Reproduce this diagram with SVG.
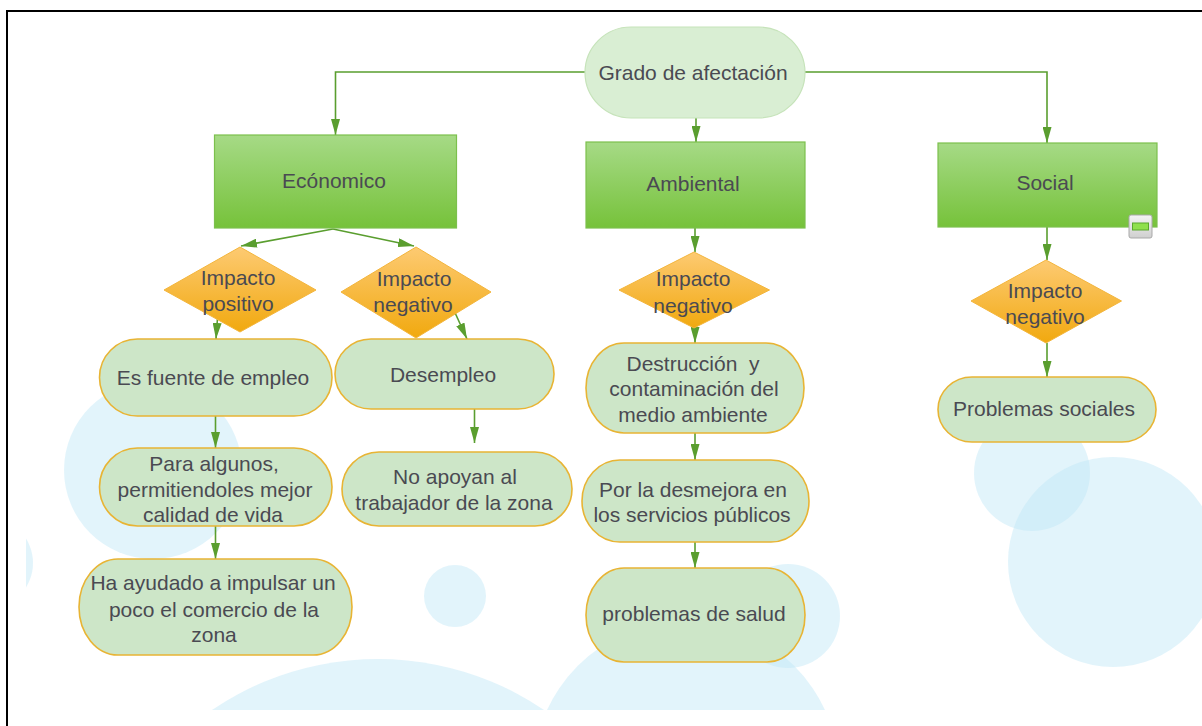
<svg xmlns="http://www.w3.org/2000/svg" width="1202" height="726" viewBox="0 0 1202 726">
<defs>
<linearGradient id="gGreen" x1="0" y1="0" x2="0" y2="1"><stop offset="0" stop-color="#a6da86"/><stop offset="1" stop-color="#76c23a"/></linearGradient>
<linearGradient id="gOrange" x1="0" y1="0" x2="0" y2="1"><stop offset="0" stop-color="#fdca72"/><stop offset="1" stop-color="#f1a90f"/></linearGradient>
<linearGradient id="gIcon" x1="0" y1="0" x2="0" y2="1"><stop offset="0" stop-color="#f4f4f4"/><stop offset="1" stop-color="#cfcfcf"/></linearGradient>
<clipPath id="bgClip"><rect x="26" y="12" width="1176" height="698"/></clipPath>
<marker id="arr" markerUnits="userSpaceOnUse" markerWidth="16" markerHeight="9" refX="16" refY="4.5" orient="auto"><path d="M0,0 L16,4.5 L0,9 z" fill="#5a9e2f"/></marker>
<style>
.bub{fill:#bfe7f7;opacity:0.45}
.rect{fill:url(#gGreen);stroke:#7cc04d;stroke-width:1.2}
.dia{fill:url(#gOrange);stroke:#f3b53c;stroke-width:1}
.box{fill:#cde6c8;stroke:#e8b434;stroke-width:1.6}
.start{fill:#d9eed3;stroke:#c6e3ba;stroke-width:1.2}
.t{font-family:"Liberation Sans",Arial,sans-serif;font-size:21px;fill:#4a4a52;text-anchor:middle;dominant-baseline:central}
.c{fill:none;stroke:#5a9e2f;stroke-width:1.6;marker-end:url(#arr)}
</style>
</defs>
<rect width="1202" height="726" fill="#ffffff"/>
<g id="background" clip-path="url(#bgClip)">
<circle class="bub" cx="153" cy="470" r="89"/>
<circle class="bub" cx="-13" cy="563" r="46"/>
<circle class="bub" cx="455" cy="596" r="31"/>
<circle class="bub" cx="378" cy="955" r="296"/>
<circle class="bub" cx="686" cy="774" r="153"/>
<circle class="bub" cx="788" cy="616" r="52"/>
<circle class="bub" cx="1032" cy="473" r="58"/>
<circle class="bub" cx="1113" cy="562" r="105"/>
</g>
<g id="frame" fill="none" stroke="#000" stroke-width="2">
<path d="M7,726 L7,11 L1202,11"/>
</g>
<g id="connectors">
<path class="c" d="M585,72 L335.5,72 L335.5,135"/>
<path class="c" d="M805,72 L1047,72 L1047,143"/>
<path class="c" d="M696,118 L696,142"/>
<path class="c" d="M333,229 L241,246"/>
<path class="c" d="M333,229 L414,246"/>
<path class="c" d="M218,311 L216,339"/>
<path class="c" d="M451.5,305 L467,339"/>
<path class="c" d="M215.5,416 L215.5,448"/>
<path class="c" d="M474.5,409 L474.5,443"/>
<path class="c" d="M215.5,526 L215.5,559"/>
<path class="c" d="M695,228 L695,252"/>
<path class="c" d="M695,325 L695,343"/>
<path class="c" d="M695,433 L695,460"/>
<path class="c" d="M695,542 L695,568"/>
<path class="c" d="M1047,227 L1047,260"/>
<path class="c" d="M1047,343 L1047,377"/>
</g>
<g id="grado"><rect class="start" x="585" y="27" width="220" height="91" rx="46" ry="45.5"/><text class="t" x="693" y="72">Grado de afectación</text></g>
<g id="economico"><rect class="rect" x="214.5" y="135" width="242" height="93"/><text class="t" x="334" y="180">Ecónomico</text></g>
<g id="ambiental"><rect class="rect" x="586" y="142" width="219" height="86"/><text class="t" x="693" y="183">Ambiental</text></g>
<g id="social"><rect class="rect" x="938" y="143" width="219" height="84"/><text class="t" x="1045" y="182">Social</text>
<rect x="1129" y="215" width="23" height="23" rx="2" fill="url(#gIcon)" stroke="#a9a9a9" stroke-width="1"/><rect x="1132.5" y="223" width="16" height="7" fill="#8fe04c" stroke="#5aa82c" stroke-width="1"/></g>
<g id="impacto-positivo"><polygon class="dia" points="240,247 316,290 240,332 164,290"/><text class="t" x="238" y="277">Impacto</text><text class="t" x="238" y="303">positivo</text></g>
<g id="impacto-negativo-eco"><polygon class="dia" points="416,247 491,292 416,338 341,292"/><text class="t" x="414" y="278">Impacto</text><text class="t" x="413" y="304">negativo</text></g>
<g id="impacto-negativo-amb"><polygon class="dia" points="694,252 769.5,290 694,328 619,290"/><text class="t" x="693" y="278">Impacto</text><text class="t" x="693" y="305">negativo</text></g>
<g id="impacto-negativo-soc"><polygon class="dia" points="1046,260 1121.5,301 1046,343 971,301"/><text class="t" x="1045" y="290">Impacto</text><text class="t" x="1045" y="316">negativo</text></g>
<g id="es-fuente"><rect class="box" x="99.5" y="339" width="232.5" height="77" rx="38" ry="38.5"/><text class="t" x="213" y="377">Es fuente de empleo</text></g>
<g id="desempleo"><rect class="box" x="335" y="339" width="219" height="70" rx="36" ry="35"/><text class="t" x="443" y="374">Desempleo</text></g>
<g id="para-algunos"><rect class="box" x="99.5" y="448" width="232.5" height="78" rx="38" ry="39"/><text class="t" x="214" y="463">Para algunos,</text><text class="t" x="215" y="489">permitiendoles mejor</text><text class="t" x="213" y="514">calidad de vida</text></g>
<g id="no-apoyan"><rect class="box" x="342" y="452" width="230" height="74" rx="37" ry="37"/><text class="t" x="455" y="476">No apoyan al</text><text class="t" x="454" y="502">trabajador de la zona</text></g>
<g id="ha-ayudado"><rect class="box" x="79" y="559" width="273" height="96" rx="39" ry="48"/><text class="t" x="213" y="582">Ha ayudado a impulsar un</text><text class="t" x="214" y="609">poco el comercio de la</text><text class="t" x="214" y="634">zona</text></g>
<g id="destruccion"><rect class="box" x="586" y="343" width="218" height="90" rx="38" ry="45"/><text class="t" x="693" y="363" style="white-space:pre">Destrucción  y</text><text class="t" x="694" y="388">contaminación del</text><text class="t" x="693" y="414">medio ambiente</text></g>
<g id="desmejora"><rect class="box" x="582" y="460" width="227" height="82" rx="38" ry="41"/><text class="t" x="693" y="489">Por la desmejora en</text><text class="t" x="692" y="514">los servicios públicos</text></g>
<g id="salud"><rect class="box" x="586" y="568" width="219" height="94" rx="38" ry="47"/><text class="t" x="694" y="613">problemas de salud</text></g>
<g id="problemas-sociales"><rect class="box" x="938" y="377" width="218" height="65" rx="34" ry="32.5"/><text class="t" x="1044" y="408">Problemas sociales</text></g>
</svg>
